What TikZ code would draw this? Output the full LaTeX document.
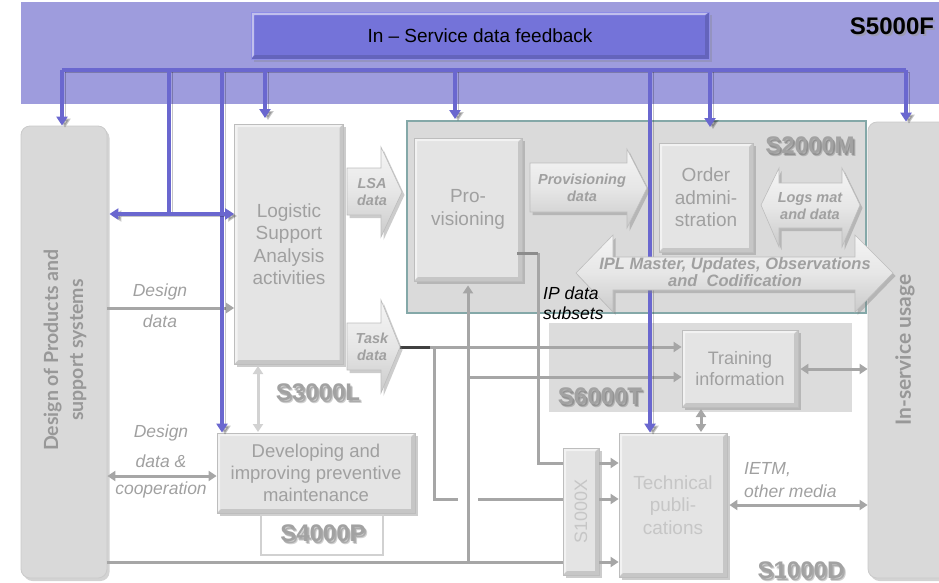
\documentclass[tikz,border=0pt]{standalone}
\usepackage{fontspec}
\setmainfont{Liberation Sans}
\newfontfamily\sidefont{Lato}
\usetikzlibrary{arrows.meta,shadows}

\definecolor{banner}{HTML}{9E9CDD}
\definecolor{fbbox}{HTML}{7473D9}
\definecolor{fbedge}{HTML}{8E8DE6}
\definecolor{feedblue}{HTML}{6A67CF}
\definecolor{boxfill}{HTML}{E4E4E4}
\definecolor{boxedge}{HTML}{BDBDBD}
\definecolor{areafill}{HTML}{DADADA}
\definecolor{sidefill}{HTML}{D9D9D9}
\definecolor{tealedge}{HTML}{84A8A8}
\definecolor{linegrey}{HTML}{A6A6A6}
\definecolor{lightline}{HTML}{D2D2D2}
\definecolor{txtgrey}{HTML}{A0A0A0}
\definecolor{paletxt}{HTML}{C6C6C6}
\definecolor{codegrey}{HTML}{A2A2A2}
\definecolor{arrowfill}{HTML}{E6E6E6}

\tikzset{
  Gt/.tip={Triangle[width=10pt,length=8pt]},
  Bt/.tip={Triangle[width=11pt,length=9pt]},
  % raised-panel look: light top/left rim, darker bottom/right rim
  bevel/.style={path picture={
    \fill[black,opacity=0.13]
      (path picture bounding box.south west) -- (path picture bounding box.south east)
      -- (path picture bounding box.north east)
      -- ([xshift=-4pt,yshift=-4pt]path picture bounding box.north east)
      -- ([xshift=-4pt,yshift=4pt]path picture bounding box.south east)
      -- ([xshift=4pt,yshift=4pt]path picture bounding box.south west) -- cycle;
    \fill[white,opacity=0.55]
      (path picture bounding box.south west) -- (path picture bounding box.north west)
      -- (path picture bounding box.north east)
      -- ([xshift=-4pt,yshift=-3pt]path picture bounding box.north east)
      -- ([xshift=3pt,yshift=-3pt]path picture bounding box.north west)
      -- ([xshift=3pt,yshift=4pt]path picture bounding box.south west) -- cycle;
  }},
}

% code label with a soft shadow
\newcommand\codelabel[4]{%
  \node[codeshade, xshift=1.5pt, yshift=-2pt] (#1-sa) at (#2,#3) {#4};
  \node[codeshade, xshift=2.5pt, yshift=-3pt] (#1-sb) at (#2,#3) {#4};
  \node[codetext] (#1) at (#2,#3) {#4};}

\begin{document}
\begin{tikzpicture}[x=1pt,y=-1pt,
  box/.style={draw=boxedge, line width=0.8pt, fill=boxfill, inner sep=0pt, bevel,
    align=center, text=txtgrey, font=\fontsize{19}{22.5}\selectfont,
    drop shadow={shadow xshift=2.5pt,shadow yshift=-3pt,opacity=0.4}},
  sidebox/.style={draw=boxedge!80, line width=0.8pt, fill=sidefill, rounded corners=9pt,
    inner sep=0pt, drop shadow={shadow xshift=2.5pt,shadow yshift=-3pt,opacity=0.35}},
  blockarrow/.style={top color=arrowfill!40!white, bottom color=arrowfill!88!black,
    middle color=arrowfill, draw=boxedge, line width=0.6pt, line join=miter,
    drop shadow={shadow xshift=2.5pt,shadow yshift=-3pt,opacity=0.4}},
  arrowtext/.style={text=txtgrey, align=center, inner sep=0pt,
    font=\bfseries\itshape\fontsize{14.5}{17}\selectfont},
  conn/.style={draw=linegrey, line width=3pt},
  lightconn/.style={draw=lightline, line width=3pt},
  darkconn/.style={draw=black!75, line width=3pt},
  feed/.style={draw=feedblue, line width=3.2pt,
    preaction={draw=black, opacity=0.22, transform canvas={xshift=3pt,yshift=-2pt}}},
  lbl/.style={text=txtgrey, inner sep=0pt, font=\itshape\fontsize{17.5}{21}\selectfont},
  codetext/.style={text=codegrey, inner sep=0pt, font=\bfseries\fontsize{24}{28}\selectfont},
  codeshade/.style={text=black, opacity=0.18, inner sep=0pt, font=\bfseries\fontsize{24}{28}\selectfont},
]
\useasboundingbox (0,0) rectangle (939,582);

% ---- S5000F feedback band ----
\fill[banner] (21,2) rectangle (939,104);
\node[fill=fbbox, draw=fbedge, line width=1pt, minimum width=458pt, minimum height=47pt,
  inner sep=0pt, font=\fontsize{19}{22}\selectfont, bevel,
  drop shadow={shadow xshift=2.5pt,shadow yshift=-3pt,opacity=0.3}] (fb) at (480,35.5)
  {In -- Service data feedback};
\node[text=black!40, opacity=0.6, inner sep=0pt, font=\bfseries\fontsize{24}{28}\selectfont,
  xshift=2pt, yshift=-2pt] (s5000-s) at (892,26) {S5000F};
\node[text=black, inner sep=0pt, font=\bfseries\fontsize{24}{28}\selectfont] (s5000) at (892,26) {S5000F};

% ---- side systems ----
\node[sidebox, minimum width=86pt, minimum height=452pt] (design) at (64,352) {};
\node[rotate=90, align=center, text=txtgrey!95!black, inner sep=0pt,
  font=\sidefont\bfseries\fontsize{19.5}{25}\selectfont] (designtxt) at (65,350)
  {Design of Products and\\support systems};
\node[sidebox, minimum width=90pt, minimum height=456pt] (insvc) at (913,350) {};

% ---- S2000M area and S6000T background ----
\node[fill=areafill, draw=tealedge, line width=1.3pt, minimum width=459pt, minimum height=192pt,
  inner sep=0pt] (s2000area) at (636.5,217) {};
\node[fill=areafill!95!white, minimum width=303pt, minimum height=89pt, inner sep=0pt]
  (s6000area) at (700.5,367.5) {};

% ---- process boxes ----
\node[box, minimum width=109pt, minimum height=240pt] (lsa) at (289,244)
  {Logistic\\Support\\Analysis\\activities};
\node[box, minimum width=198pt, minimum height=80pt, font=\fontsize{18.5}{22}\selectfont]
  (dev) at (316,473) {Developing and\\improving preventive\\maintenance};
\node[fill=white, draw=boxedge!70, line width=2pt, minimum width=122pt, minimum height=40pt,
  inner sep=0pt] (s4000box) at (322,535) {};
\node[box, minimum width=108pt, minimum height=143pt] (prov) at (468,209.5) {Pro-\\visioning};
\node[box, minimum width=94pt, minimum height=109pt] (order) at (706,197.5)
  {Order\\admini-\\stration};
\node[box, minimum width=116pt, minimum height=77pt, font=\fontsize{18}{21.5}\selectfont]
  (train) at (740,368.5) {Training\\information};
\node[box, minimum width=108pt, minimum height=144pt, text=paletxt] (tech) at (673,505)
  {Technical\\publi-\\cations};
\node[box, minimum width=36pt, minimum height=127pt] (s1000x) at (581,511.5) {};
\node[rotate=90, text=paletxt, inner sep=0pt, font=\fontsize{18}{21}\selectfont]
  (s1000xtxt) at (581,511.5) {S1000X};

% junction points of the data lines
\coordinate (taskj) at (430,347);
\coordinate (taskd) at (434,347);
\coordinate (taskc) at (434,499);
\coordinate (hopl) at (458,499);
\coordinate (hopr) at (478,499);
\coordinate (provb) at (468,562);
\coordinate (provm) at (468,377);
\coordinate (ipa) at (517,253);
\coordinate (ipb) at (538,253);
\coordinate (ipc) at (538,463);

% ---- grey data connectors ----
\draw[conn,-Gt] (design.east |- 0,308) -- (lsa.west |- 0,308);
\draw[conn,Gt-Gt] (design.east |- 0,476) -- (dev.west |- 0,476);
\draw[lightconn,Gt-Gt,shorten <=2pt,shorten >=1pt] (258,364) -- (258,433);
\draw[conn] (design.east |- 0,562) -- (s1000x.west |- 0,562);
\draw[conn,-Gt] (taskj) -- (train.west |- taskj);
\draw[conn] (taskd) -- (taskc) -- (hopl);
\draw[conn] (hopr) -- (s1000x.west |- hopr);
\draw[conn,-Gt,shorten >=4pt] (provb) -- (prov.south -| provb);
\draw[conn,-Gt] (provm) -- (train.west |- provm);
\draw[conn] (ipb) -- (ipc) -- (s1000x.west |- ipc);
\draw[draw=black!45, line width=3pt] (ipa) -- (ipb);
\draw[conn,-Gt] (s1000x.east |- 0,463) -- (tech.west |- 0,463);
\draw[conn,-Gt] (s1000x.east |- 0,499) -- (tech.west |- 0,499);
\draw[conn,-Gt] (s1000x.east |- 0,562) -- (tech.west |- 0,562);
\draw[conn,Gt-Gt,shorten <=2pt,shorten >=1pt] (701,407) -- (701,433);
\draw[conn,Gt-Gt,shorten <=2pt] (train.east |- 0,369) -- (insvc.west |- 0,369);
\draw[conn,Gt-Gt,shorten <=2pt] (tech.east |- 0,505) -- (insvc.west |- 0,505);

% ---- feedback distribution (S5000F) ----
\coordinate (busL) at (62,70);
\coordinate (busR) at (906,70);
\coordinate (busD) at (222,70);
\coordinate (busT) at (650,70);
\draw[feed] (busL) -- (busR);
\draw[feed,-Bt] (busL) -- (busL |- design.north);
\draw[feed,-Bt] (265,70) -- (265,118);
\draw[feed,-Bt] (455,70) -- (455,119);
\draw[feed,-Bt] (710,70) -- (710,127);
\draw[feed,-Bt] (busR) -- (busR |- insvc.north);
\draw[feed] (169,70) -- (169,214);
\draw[feed,-Bt] (busD) -- (busD |- dev.north);
\draw[feed,-Bt] (busT) -- (busT |- tech.north);
\draw[feed,Bt-Bt,shorten <=2pt] (design.east |- 0,214) -- (lsa.west |- 0,214);
\draw[darkconn] (400,347) -- (taskj);

% ---- block arrows ----
\path[blockarrow] (347,168) -- (381,168) -- (381,147) -- (402,192) -- (381,237)
  -- (381,215) -- (347,215) -- cycle;
\node[arrowtext] (lsadata) at (372,192) {LSA\\data};
\path[blockarrow] (347,323) -- (381,323) -- (381,300) -- (400,347) -- (381,393)
  -- (381,370) -- (347,370) -- cycle;
\node[arrowtext] (taskdata) at (372,347) {Task\\data};
\path[blockarrow] (530,163) -- (627,163) -- (627,149) -- (647,188) -- (627,228)
  -- (627,212) -- (530,212) -- cycle;
\node[arrowtext] (provdata) at (582,188) {Provisioning\\data};
\path[blockarrow] (761,205) -- (779,168) -- (779,183) -- (842,183) -- (842,168)
  -- (860,205) -- (842,247) -- (842,228) -- (779,228) -- (779,247) -- cycle;
\node[arrowtext] (logsdata) at (810,206) {Logs mat\\and data};
\path[blockarrow] (576,273) -- (613,235) -- (613,257) -- (855,257) -- (855,235)
  -- (893,273) -- (855,312) -- (855,290) -- (613,290) -- (613,312) -- cycle;
\node[arrowtext, font=\bfseries\itshape\fontsize{16.5}{16.5}\selectfont] (ipldata) at (735,272)
  {IPL Master, Updates, Observations\\and\ \ Codification};

% ---- side texts ----
\node[rotate=90, text=txtgrey!95!black, inner sep=0pt,
  font=\sidefont\bfseries\fontsize{21}{25}\selectfont] (insvctxt) at (905,350) {In-service usage};

% ---- connector labels ----
\node[lbl] (dd1) at (160,292) {Design};
\node[lbl] (dd2) at (160,321) {data};
\node[lbl] (dc1) at (161,433) {Design};
\node[lbl] (dc2) at (161,461) {data \&};
\node[lbl] (dc3) at (161,490) {cooperation};
\node[lbl, anchor=west] (ietm) at (744,470) {IETM,};
\node[lbl, anchor=west] (media) at (744,491) {other media};
\node[lbl, anchor=west, text=black] (ip1) at (543,293) {IP data};
\node[lbl, anchor=west, text=black] (ip2) at (543,313) {subsets};

% ---- specification names ----
\codelabel{s3000}{318}{392}{S3000L}
\codelabel{s4000}{323}{533}{S4000P}
\codelabel{s2000}{810}{145}{S2000M}
\codelabel{s6000}{600}{396}{S6000T}
\codelabel{s1000}{801}{570}{S1000D}
\end{tikzpicture}
\end{document}
